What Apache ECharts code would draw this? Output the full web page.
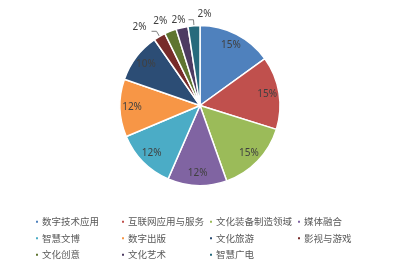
<!DOCTYPE html>
<html>
<head>
<meta charset="utf-8">
<script src="https://cdn.jsdelivr.net/npm/echarts@6/dist/echarts.min.js"></script>
<style>
  html, body { margin: 0; padding: 0; background: #fff; }
  #main { width: 400px; height: 270px; }
</style>
</head>
<body>
<div id="main"></div>
<script>
const categories = ['数字技术应用', '互联网应用与服务', '文化装备制造领域', '媒体融合',
  '智慧文博', '数字出版', '文化旅游', '影视与游戏', '文化创意', '文化艺术', '智慧广电']
const shares = [15, 14.7, 14.7, 11.9, 12.1, 11.6, 10, 2.4, 2.4, 2.4, 2.4]
const colors = ['#4F81BD', '#C0504D', '#9BBB59', '#8064A2', '#4BACC6', '#F79646',
  '#2C4D75', '#772C2A', '#5F7530', '#4D3B62', '#276A7C']

const myChart = echarts.init(document.getElementById('main'))

const pctText = function (p) { return Math.round(p.percent) + '%' }
const labelFont = { fontSize: 10, color: '#404040', fontFamily: 'Noto Sans' }

// main pie: small slices get their label outside the rim
const mainData = []
// label ring: big slices get their label at ~0.8 of the radius
const ringData = []
for (let i = 0; i < categories.length; i++) {
  const small = shares[i] < 5
  const item = { name: categories[i], value: shares[i], label: { show: false }, labelLine: { show: false } }
  if (small) {
    const withLine = (i === 7 || i === 10)
    item.label = { show: true, position: 'outside', distanceToLabelLine: 1 }
    item.labelLine = { show: withLine, length: 6, length2: withLine ? 5 : 0, lineStyle: { color: '#7f7f7f', width: 1 } }
  }
  mainData.push(item)
  ringData.push({ name: categories[i], value: shares[i], label: { show: !small } })
}

// legend laid out as a 4-column grid: one vertical legend per column
const legendCols = [[0, 4, 8], [1, 5, 9], [2, 6, 10], [3, 7]]
const legendLeft = [29, 115, 203, 291]
const legends = legendCols.map(function (col, k) {
  return {
    orient: 'vertical',
    left: legendLeft[k],
    top: 212,
    itemWidth: 4,
    itemHeight: 4,
    itemGap: 7,
    icon: 'rect',
    data: col.map(function (i) { return { name: categories[i], itemStyle: { color: colors[i] } } }),
    textStyle: { fontSize: 9.5, color: '#595959', padding: [0, 0, 0, -2], fontFamily: 'Noto Sans CJK SC' }
  }
})

const option = {
  animation: false,
  color: colors,
  legend: legends,
  series: [
    {
      type: 'pie',
      center: [200, 105.5],
      radius: [0, 80],
      startAngle: 90,
      clockwise: true,
      avoidLabelOverlap: false,
      data: mainData,
      itemStyle: { borderColor: '#fff', borderWidth: 1.5 },
      label: Object.assign({ formatter: pctText }, labelFont),
      labelLayout: function (params) {
        if (params.dataIndex === 10) return { dx: 24, dy: -6 }
        if (params.dataIndex === 9) return { dx: 6, dy: -2 }
        if (params.dataIndex === 8) return { dx: 0, dy: -4 }
        if (params.dataIndex === 7) return { dx: -4, dy: -4 }
      }
    },
    {
      type: 'pie',
      center: [200, 105.5],
      radius: [50, 80],
      startAngle: 90,
      silent: true,
      avoidLabelOverlap: false,
      data: ringData,
      itemStyle: { color: 'rgba(0,0,0,0)', borderWidth: 0 },
      label: Object.assign({ position: 'inside', formatter: pctText }, labelFont),
      labelLine: { show: false },
      emphasis: { disabled: true }
    }
  ]
}
option && myChart.setOption(option)
</script>
</body>
</html>
